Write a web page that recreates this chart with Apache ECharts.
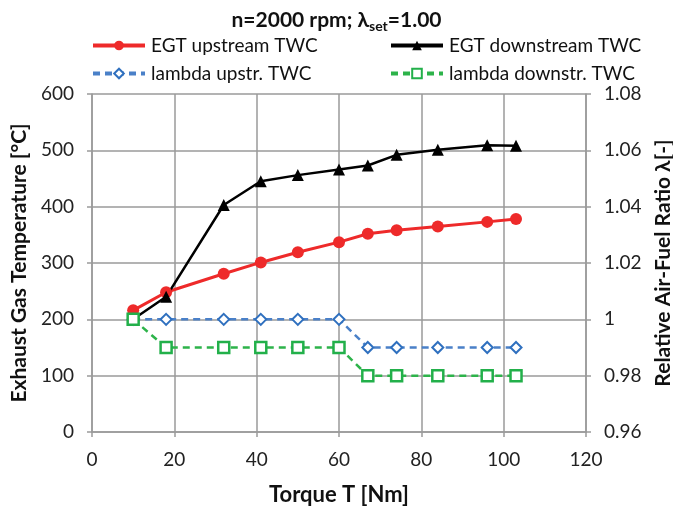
<!DOCTYPE html>
<html><head><meta charset="utf-8">
<script src="https://cdn.jsdelivr.net/npm/echarts@6/dist/echarts.min.js"></script>
<style>html,body{margin:0;padding:0;background:#fff}#c{width:673px;height:507px}</style>
</head><body><div id="c"></div>
<script>
const torque = [10, 18, 32, 41, 50, 60, 67, 74, 84, 96, 103];
const egtUp = [216, 248, 281, 301, 319, 337, 352, 358, 365, 373, 378];
const egtDown = [200, 240, 403, 445, 456, 466, 473, 492, 501, 509, 508];
const lambdaUp = [1.00, 1.00, 1.00, 1.00, 1.00, 1.00, 0.99, 0.99, 0.99, 0.99, 0.99];
const lambdaDown = [1.00, 0.99, 0.99, 0.99, 0.99, 0.99, 0.98, 0.98, 0.98, 0.98, 0.98];
const names = ['EGT upstream TWC', 'EGT downstream TWC', 'lambda upstr. TWC', 'lambda downstr. TWC'];

const FF = 'Lato, "Open Sans", sans-serif';
const pairs = (ys) => torque.map((x, i) => [x, ys[i]]);
const gridColor = '#9a9a9a';

const chart = echarts.init(document.getElementById('c'), null, {renderer: 'canvas'});
const legendBase = {itemWidth: 52, itemHeight: 12, itemGap: 6, lineStyle: {width: 4},
  textStyle: {fontFamily: FF, fontSize: 19, color: '#111', padding: [0, 0, 0, 1]}, selectedMode: false};
chart.setOption({
  animation: false,
  textStyle: {fontFamily: FF},
  title: {
    text: '{a|n=2000 rpm; λ}{b|set}{a|=1.00}',
    left: 'center', top: 3,
    textStyle: {rich: {
      a: {fontFamily: FF, fontSize: 21, fontWeight: 'bold', color: '#111'},
      b: {fontFamily: FF, fontSize: 14, fontWeight: 'bold', color: '#111', padding: [11, 0, 0, 0]}
    }}
  },
  legend: [
    Object.assign({}, legendBase, {data: [names[0]], left: 86, top: 31}),
    Object.assign({}, legendBase, {data: [names[1]], left: 384, top: 31}),
    Object.assign({}, legendBase, {data: [names[2]], left: 86, top: 59}),
    Object.assign({}, legendBase, {data: [names[3]], left: 384, top: 59})
  ],
  grid: {left: 92, right: 87, top: 94, bottom: 75, containLabel: false, outerBoundsMode: 'none'},
  xAxis: {
    type: 'value', min: 0, max: 120, interval: 20,
    name: 'Torque T [Nm]', nameLocation: 'middle', nameGap: 52,
    nameTextStyle: {fontFamily: FF, fontSize: 22, fontWeight: 'bold', color: '#111'},
    axisLine: {show: true, lineStyle: {color: gridColor, width: 1.5}},
    axisTick: {show: true, length: 5, lineStyle: {color: gridColor, width: 1.5}},
    axisLabel: {fontFamily: FF, fontSize: 19, color: '#222', margin: 18},
    splitLine: {show: true, lineStyle: {color: gridColor, width: 1.5}}
  },
  yAxis: [{
    type: 'value', min: 0, max: 600, interval: 100, position: 'left',
    name: 'Exhaust Gas Temperature [°C]', nameLocation: 'middle', nameGap: 60, nameRotate: 90,
    nameTextStyle: {fontFamily: FF, fontSize: 21, fontWeight: 'bold', color: '#111'},
    axisLine: {show: true, lineStyle: {color: gridColor, width: 1.5}},
    axisTick: {show: true, length: 5, lineStyle: {color: gridColor, width: 1.5}},
    axisLabel: {fontFamily: FF, fontSize: 19, color: '#222', margin: 18},
    splitLine: {show: true, lineStyle: {color: gridColor, width: 1.5}}
  }, {
    type: 'value', min: 0.96, max: 1.08, interval: 0.02, position: 'right',
    name: 'Relative Air-Fuel Ratio λ[-]', nameLocation: 'middle', nameGap: 61, nameRotate: 90,
    nameTextStyle: {fontFamily: FF, fontSize: 21, fontWeight: 'bold', color: '#111'},
    axisLine: {show: true, lineStyle: {color: gridColor, width: 1.5}},
    axisTick: {show: true, length: 5, lineStyle: {color: gridColor, width: 1.5}},
    axisLabel: {fontFamily: FF, fontSize: 19, color: '#222', margin: 18,
      formatter: v => String(parseFloat(v.toFixed(2)))},
    splitLine: {show: false}
  }],
  series: [{
    name: names[0], type: 'line', yAxisIndex: 0, data: pairs(egtUp),
    symbol: 'circle', symbolSize: 12,
    lineStyle: {color: '#ee2a2a', width: 3}, itemStyle: {color: '#ee2a2a'}
  }, {
    name: names[1], type: 'line', yAxisIndex: 0, data: pairs(egtDown),
    symbol: 'triangle', symbolSize: 12,
    lineStyle: {color: '#000', width: 2.5}, itemStyle: {color: '#000'}
  }, {
    name: names[2], type: 'line', yAxisIndex: 1, data: pairs(lambdaUp),
    symbol: 'diamond', symbolSize: 11,
    lineStyle: {color: '#4a80c8', width: 2.5, type: [7, 5]},
    itemStyle: {color: '#fff', borderColor: '#2f70bf', borderWidth: 2}
  }, {
    name: names[3], type: 'line', yAxisIndex: 1, data: pairs(lambdaDown),
    symbol: 'rect', symbolSize: 11,
    lineStyle: {color: '#2db34a', width: 2.5, type: [7, 5]},
    itemStyle: {color: '#fff', borderColor: '#22b04a', borderWidth: 2.5}
  }]
});
</script></body></html>
